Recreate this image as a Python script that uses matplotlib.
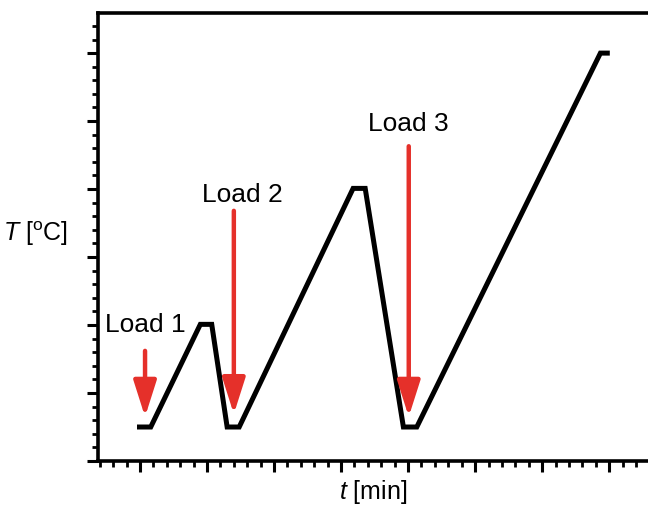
import matplotlib
matplotlib.use("Agg")
from matplotlib import pyplot as plt
from matplotlib.ticker import MultipleLocator, NullFormatter

plt.rcParams['font.family'] = ['Liberation Sans', 'DejaVu Sans']
plt.rcParams['mathtext.fontset'] = 'custom'
plt.rcParams['mathtext.rm'] = 'Liberation Sans'
plt.rcParams['mathtext.it'] = 'Liberation Sans:italic'

# temperature program (arbitrary units)
t_min = [-0.045, 0.16, 0.90, 1.07, 1.30, 1.48, 3.18, 3.36, 3.93, 4.13, 6.87, 7.01]
temp = [0.5, 0.5, 2.01, 2.01, 0.5, 0.5, 4.01, 4.01, 0.5, 0.5, 6.0, 6.0]

# loads: label, arrow x, arrow tail y, arrow tip y, label x, label y
load_labels = ['Load 1', 'Load 2', 'Load 3']
arrow_x = [0.075, 1.40, 4.01]
arrow_tail = [1.62, 3.68, 4.63]
arrow_tip = [0.65, 0.69, 0.65]
label_x = [-0.52, 0.925, 3.40]
label_y = [1.91, 3.82, 4.87]

red = '#e5302a'

fig = plt.figure(figsize=(6.48, 5.06), dpi=100)
ax = fig.add_axes([98/648, 44/506, 550/648, 448/506])

ax.plot(t_min, temp, '-', color='black', linewidth=3.6, solid_joinstyle='miter', solid_capstyle='butt')

for lab, x, y0, y1, lx, ly in zip(load_labels, arrow_x, arrow_tail, arrow_tip, label_x, label_y):
    ax.annotate('', xy=(x, y1), xytext=(x, y0),
                arrowprops=dict(arrowstyle='-|>,head_width=0.7,head_length=2.2',
                                color=red, lw=3.2, shrinkA=0, shrinkB=0))
    ax.text(lx, ly, lab, fontsize=19, ha='left', va='baseline', color='black')

ax.set_xlim(-0.627, 7.58)
ax.set_ylim(0, 6.59)

ax.xaxis.set_major_locator(MultipleLocator(1))
ax.xaxis.set_minor_locator(MultipleLocator(0.2))
ax.yaxis.set_major_locator(MultipleLocator(1))
ax.yaxis.set_minor_locator(MultipleLocator(0.2))
ax.xaxis.set_major_formatter(NullFormatter())
ax.yaxis.set_major_formatter(NullFormatter())
ax.tick_params(which='major', direction='out', length=8, width=2.2, color='black')
ax.tick_params(which='minor', direction='out', length=4.5, width=2.0, color='black')
ax.tick_params(top=False, right=False)

for s in ['left', 'bottom', 'top']:
    ax.spines[s].set_linewidth(2.6)
ax.spines['right'].set_visible(False)

ax.set_xlabel(r'$t$ [min]', fontsize=18, va='center')
ax.xaxis.set_label_coords(0.5, -0.068)
ax.set_ylabel(r'$T$ [$^{\mathrm{o}}$C]', fontsize=18, rotation=0, ha='right', va='center')
ax.yaxis.set_label_coords(-0.054, 0.509)

fig.savefig('out.png', dpi=100)
